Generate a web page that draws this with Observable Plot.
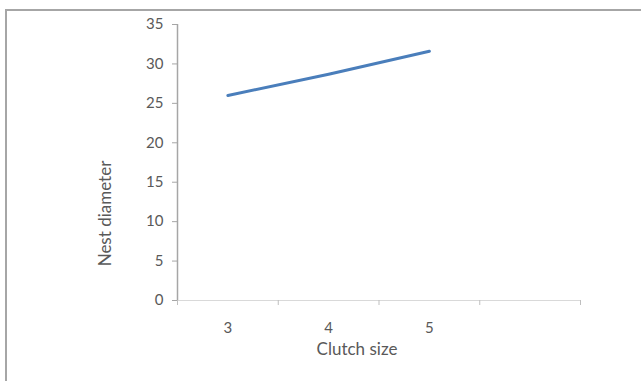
<!DOCTYPE html>
<html>
<head>
<meta charset="utf-8">
<script src="https://cdn.jsdelivr.net/npm/d3@7"></script>
<script src="https://cdn.jsdelivr.net/npm/@observablehq/plot@0.6"></script>
<style>
  html, body { margin: 0; padding: 0; background: #fff; overflow: hidden; }
  #wrap { position: relative; width: 641px; height: 381px; overflow: hidden; }
  #frame { position: absolute; left: 5px; top: 9px; width: 700px; height: 450px;
           border-top: 2px solid #a6a6a6; border-left: 2px solid #a6a6a6; }
  #chart { position: absolute; left: 0; top: 0; }
</style>
</head>
<body>
<div id="wrap"><div id="frame"></div><div id="chart"></div></div>
<script>
// Data
const clutchSize = [3, 4, 5];
const nestDiameter = [26, 28.7, 31.6];
const categoryBounds = [2.5, 3.5, 4.5, 5.5, 6.5];
const yTicks = [0, 5, 10, 15, 20, 25, 30, 35];
const xTitle = "Clutch size";
const yTitle = "Nest diameter";

const data = clutchSize.map((c, i) => ({x: c, y: nestDiameter[i]}));
const font = "Lato, 'Open Sans', sans-serif";
const textColor = "#595959";

const chart = Plot.plot({
  width: 641,
  height: 381,
  marginLeft: 177,
  marginRight: 61,
  marginTop: 24,
  marginBottom: 81,
  style: {fontFamily: font, fontSize: "15px", color: textColor, background: "transparent"},
  x: {domain: [categoryBounds[0], categoryBounds[categoryBounds.length - 1]], axis: null},
  y: {domain: [0, 35], axis: null},
  marks: [
    // x axis line (light)
    Plot.ruleY([0], {stroke: "#d9d9d9", strokeWidth: 1}),
    // y axis line
    Plot.ruleX([categoryBounds[0]], {stroke: "#a6a6a6", strokeWidth: 1.5}),
    // x category boundary ticks
    Plot.axisX({ticks: categoryBounds, tickFormat: () => "", tickSize: 5, stroke: "#bfbfbf", label: null}),
    // x category labels
    Plot.axisX({ticks: clutchSize, tickFormat: d => String(d), tickSize: 0, tickPadding: 22,
                fontSize: 15, fill: textColor, label: null}),
    // y axis ticks and labels
    Plot.axisY({ticks: yTicks, tickSize: 5, tickPadding: 9, stroke: "#a6a6a6",
                fontSize: 15, fill: textColor, label: null}),
    // the line
    Plot.line(data, {x: "x", y: "y", stroke: "#4a7ebb", strokeWidth: 3, strokeLinecap: "round"}),
    // axis titles
    Plot.text([xTitle], {frameAnchor: "bottom", dx: -22, dy: 49, lineAnchor: "middle",
                         textAnchor: "middle", fontSize: 17, fill: textColor}),
    Plot.text([yTitle], {frameAnchor: "left", dx: -72, dy: 51, rotate: -90, lineAnchor: "middle",
                         textAnchor: "middle", fontSize: 17, fill: textColor})
  ]
});
document.getElementById("chart").appendChild(chart);
</script>
</body>
</html>
